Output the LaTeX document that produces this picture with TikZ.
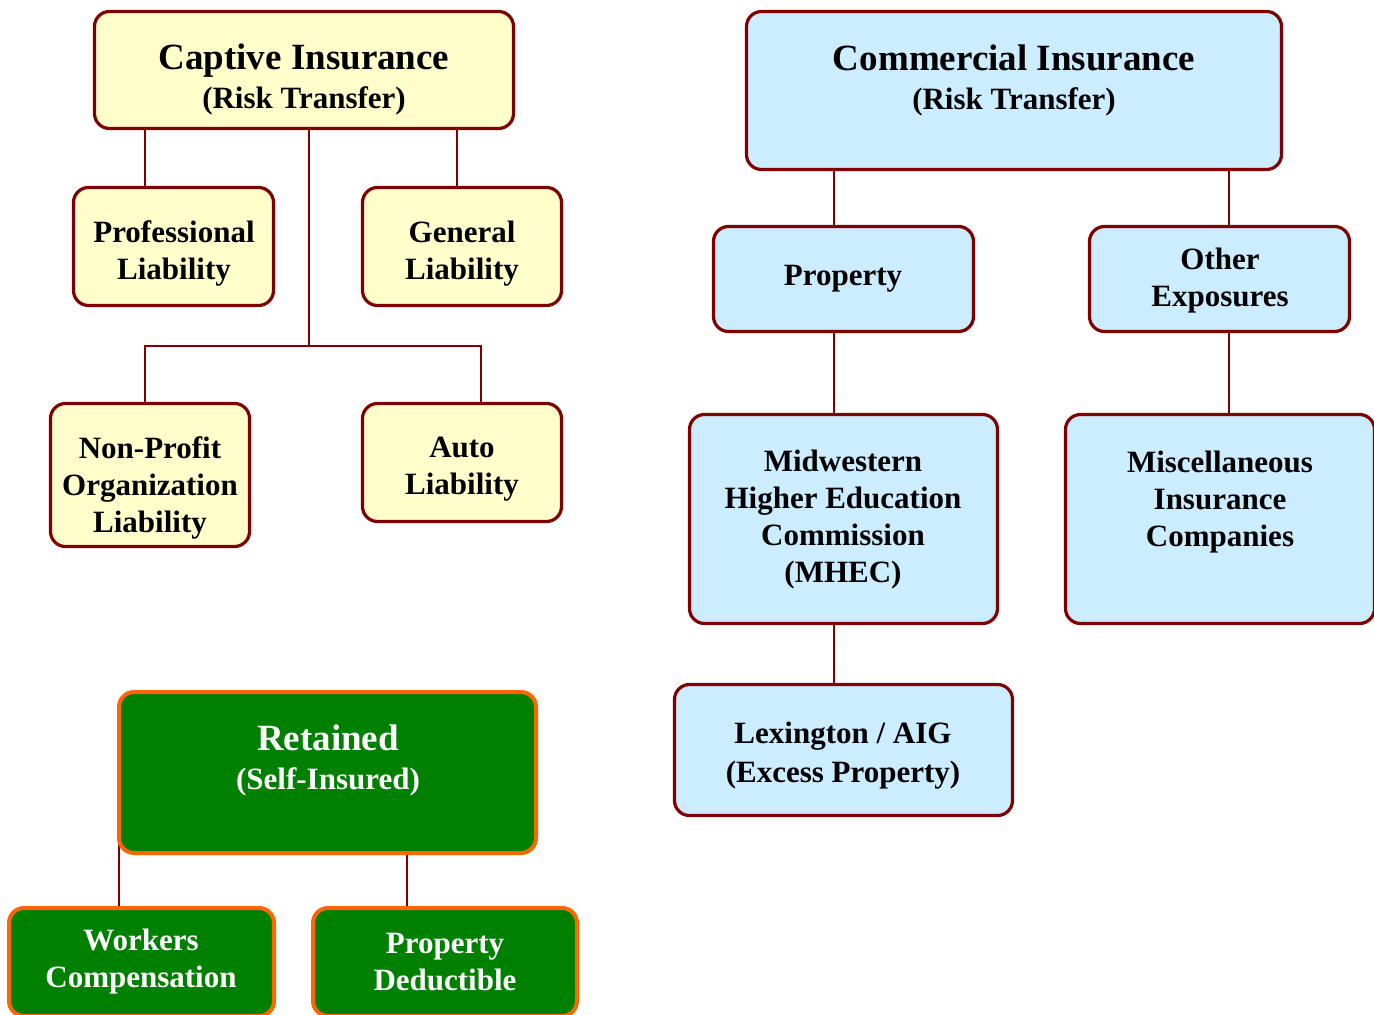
\documentclass[tikz,border=0pt]{standalone}
\usepackage{fontspec}
\setmainfont{Liberation Serif}
\usetikzlibrary{backgrounds}
\definecolor{capfill}{HTML}{FFFFCC}
\definecolor{comfill}{HTML}{CCECFF}
\definecolor{retfill}{HTML}{008000}
\definecolor{retline}{HTML}{FF6600}
\definecolor{bordo}{HTML}{800000}
\begin{document}
\begin{tikzpicture}[x=1pt,y=-1pt,
    box/.style={draw=bordo,line width=3.2pt,rounded corners=15pt,inner sep=0pt},
    capbox/.style={box,fill=capfill},
    combox/.style={box,fill=comfill},
    retbox/.style={box,draw=retline,line width=4pt,fill=retfill},
    lbl/.style={align=center,inner sep=0pt,yshift=-3pt,font=\bfseries\fontsize{31}{37}\selectfont},
    headlbl/.style={lbl,font=\bfseries\fontsize{31}{39}\selectfont},
    link/.style={draw=bordo,line width=2pt}]
    \useasboundingbox (0,0) rectangle (1374,1015);
    % captive branch
    \node[capbox,minimum width=419pt,minimum height=117pt] (cap) at (304,70) {};
    \node[headlbl] (cap-t) at (304,76.5) {{\fontsize{37}{39}\selectfont Captive Insurance}\\(Risk Transfer)};
    \node[capbox,minimum width=200pt,minimum height=118pt] (pl) at (173.5,246.5) {};
    \node[lbl] (pl-t) at (174,250.5) {Professional\\Liability};
    \node[capbox,minimum width=199pt,minimum height=118pt] (gl) at (462,246.5) {};
    \node[lbl] (gl-t) at (462,250.5) {General\\Liability};
    \node[capbox,minimum width=199pt,minimum height=143pt] (npo) at (150,475) {};
    \node[lbl] (npo-t) at (150,484.5) {Non-Profit\\Organization\\Liability};
    \node[capbox,minimum width=199pt,minimum height=118pt] (auto) at (462,462.5) {};
    \node[lbl] (auto-t) at (462,466) {Auto\\Liability};
    \coordinate (capj) at (309,346);
    % commercial branch
    \node[combox,minimum width=535pt,minimum height=158pt] (com) at (1014,90.5) {};
    \node[headlbl] (com-t) at (1014,77.5) {{\fontsize{37}{39}\selectfont Commercial Insurance}\\(Risk Transfer)};
    \node[combox,minimum width=260pt,minimum height=105pt] (prop) at (843.5,279) {};
    \node[lbl] (prop-t) at (843,276) {Property};
    \node[combox,minimum width=260pt,minimum height=105pt] (oth) at (1219.5,279) {};
    \node[lbl] (oth-t) at (1220,278) {Other\\Exposures};
    \node[combox,minimum width=308pt,minimum height=209pt] (mhec) at (843.5,519) {};
    \node[lbl] (mhec-t) at (843,517) {Midwestern\\Higher Education\\Commission\\(MHEC)};
    \node[combox,minimum width=309pt,minimum height=209pt] (misc) at (1220,519) {};
    \node[lbl] (misc-t) at (1220,499) {Miscellaneous\\Insurance\\Companies};
    \node[combox,minimum width=338pt,minimum height=131pt] (lex) at (843.5,750) {};
    \node[headlbl] (lex-t) at (843,752.5) {Lexington / AIG\\(Excess Property)};
    % retained branch
    \node[retbox,minimum width=417pt,minimum height=161pt] (ret) at (327.5,772.5) {};
    \node[headlbl,text=white] (ret-t) at (328,757.5) {{\fontsize{37}{41}\selectfont Retained}\\(Self-Insured)};
    \node[retbox,minimum width=265pt,minimum height=108pt] (wc) at (141.5,962) {};
    \node[lbl,text=white] (wc-t) at (141,958.5) {Workers\\Compensation};
    \node[retbox,minimum width=264pt,minimum height=108pt] (pd) at (445,962) {};
    \node[lbl,text=white] (pd-t) at (445,959) {Property\\Deductible};
    % connectors
    \begin{scope}[on background layer]
    \draw[link] ([xshift=-28.5pt]pl.north) -- ([xshift=-28.5pt]pl.north |- cap.south);
    \draw[link] ([xshift=-5pt]gl.north) -- ([xshift=-5pt]gl.north |- cap.south);
    \draw[link] ([xshift=5pt]cap.south) -- (capj);
    \draw[link] ([xshift=-5pt]npo.north) |- (capj) -| ([xshift=19pt]auto.north);
    \draw[link] ([xshift=-9.5pt]prop.north) -- ([xshift=-9.5pt]prop.north |- com.south);
    \draw[link] ([xshift=9.5pt]oth.north) -- ([xshift=9.5pt]oth.north |- com.south);
    \draw[link] ([xshift=-9.5pt]prop.south) -- ([xshift=-9.5pt]prop.south |- mhec.north);
    \draw[link] ([xshift=9pt]oth.south) -- ([xshift=9pt]oth.south |- misc.north);
    \draw[link] ([xshift=-9.5pt]mhec.south) -- ([xshift=-9.5pt]mhec.south |- lex.north);
    \draw[link] ([xshift=-22.5pt]wc.north) -- ([xshift=-22.5pt,yshift=15pt]wc.north |- ret.south);
    \draw[link] ([xshift=-38pt]pd.north) -- ([xshift=-38pt]pd.north |- ret.south);
    \end{scope}
\end{tikzpicture}
\end{document}
